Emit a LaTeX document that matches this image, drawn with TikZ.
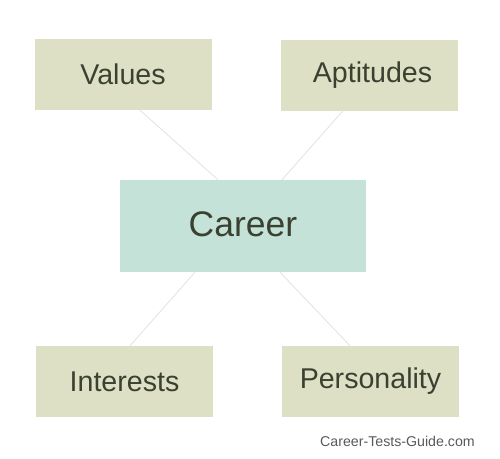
\documentclass[tikz,border=0pt]{standalone}
\usepackage{fontspec}
\setmainfont{Liberation Sans}
\definecolor{boxgreen}{HTML}{DDE0C4}
\definecolor{boxteal}{HTML}{C4E2D8}
\definecolor{ink}{HTML}{3A4131}
\definecolor{linkgray}{HTML}{E4E5DC}
\begin{document}
\begin{tikzpicture}[x=1pt,y=-1pt,
  factor/.style={fill=boxgreen,text=ink,minimum width=177pt,minimum height=71pt,inner sep=0pt,font=\fontsize{28.6}{31}\selectfont},
  link/.style={draw=linkgray,line width=0.9pt}]
\useasboundingbox (0,0) rectangle (500,458);
\node[factor] (values) at (123,74.5) {Values};
\node[factor] (aptitudes) at (369.5,75) {\hspace{6pt}Aptitudes};
\node[fill=boxteal,text=ink,minimum width=246pt,minimum height=92pt,inner sep=0pt,font=\fontsize{35.5}{38}\selectfont] (career) at (243,226) {\raisebox{3pt}{Career}};
\node[factor] (interests) at (124.5,381.5) {Interests};
\node[factor] (personality) at (370.5,381.5) {Personality};
\draw[link] ([xshift=17pt]values.south) -- ([xshift=-25pt]career.north);
\draw[link] ([xshift=-26.5pt]aptitudes.south) -- ([xshift=39pt]career.north);
\draw[link] ([xshift=-48pt]career.south) -- ([xshift=5.5pt]interests.north);
\draw[link] ([xshift=37pt]career.south) -- ([xshift=-20.5pt]personality.north);
\node[anchor=east,text=black!65,inner sep=0pt,font=\fontsize{14.2}{16}\selectfont] (site) at (475,441) {Career-Tests-Guide.com};
\end{tikzpicture}
\end{document}
